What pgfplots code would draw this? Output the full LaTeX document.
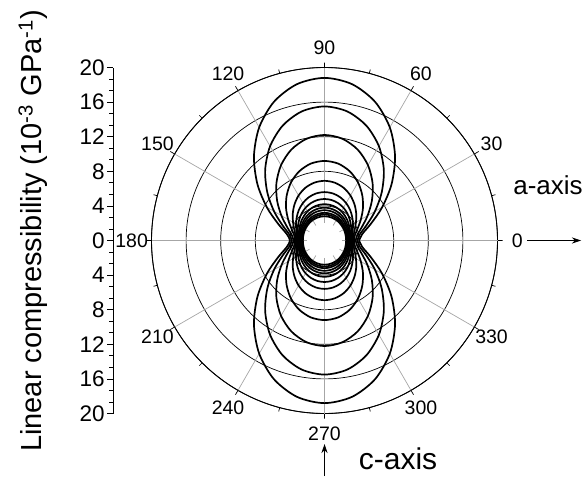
\documentclass[border=0pt]{standalone}
\usepackage{fontspec}
\setmainfont{Liberation Sans}
\usepackage{pgfplots}
\usepackage{pgfplotstable}
\pgfplotsset{compat=1.18}
\usepgfplotslibrary{polar}
\usetikzlibrary{arrows.meta}

% Linear compressibility (10^-3 GPa^-1) versus direction, one column per pressure
\pgfplotstableread{
t    c1    c2    c3    c4   c5   c6   c7   c8   c9   c10  c11  c12  c13
0    4.00  3.80  3.60  3.40 3.30 3.20 3.10 3.00 2.90 2.80 2.70 2.60 2.50
10   4.45  4.15  3.86  3.57 3.41 3.27 3.15 3.04 2.93 2.82 2.72 2.61 2.51
20   5.73  5.17  4.61  4.08 3.72 3.48 3.30 3.14 3.01 2.88 2.76 2.65 2.54
30   7.70  6.73  5.75  4.85 4.20 3.80 3.53 3.30 3.13 2.98 2.83 2.70 2.58
40   10.12 8.63  7.15  5.80 4.79 4.19 3.80 3.50 3.27 3.09 2.91 2.77 2.62
50   12.69 10.67 8.65  6.80 5.41 4.61 4.10 3.70 3.43 3.21 2.99 2.83 2.68
60   15.10 12.58 10.05 7.75 6.00 5.00 4.38 3.90 3.58 3.33 3.08 2.90 2.73
70   17.07 14.13 11.19 8.52 6.48 5.32 4.60 4.06 3.69 3.42 3.14 2.95 2.76
80   18.35 15.15 11.94 9.03 6.79 5.53 4.75 4.16 3.77 3.48 3.18 2.99 2.79
90   18.80 15.50 12.20 9.20 6.90 5.60 4.80 4.20 3.80 3.50 3.20 3.00 2.80
100  18.35 15.15 11.94 9.03 6.79 5.53 4.75 4.16 3.77 3.48 3.18 2.99 2.79
110  17.07 14.13 11.19 8.52 6.48 5.32 4.60 4.06 3.69 3.42 3.14 2.95 2.76
120  15.10 12.58 10.05 7.75 6.00 5.00 4.38 3.90 3.58 3.33 3.08 2.90 2.73
130  12.69 10.67 8.65  6.80 5.41 4.61 4.10 3.70 3.43 3.21 2.99 2.83 2.68
140  10.12 8.63  7.15  5.80 4.79 4.19 3.80 3.50 3.27 3.09 2.91 2.77 2.62
150  7.70  6.73  5.75  4.85 4.20 3.80 3.53 3.30 3.13 2.98 2.83 2.70 2.58
160  5.73  5.17  4.61  4.08 3.72 3.48 3.30 3.14 3.01 2.88 2.76 2.65 2.54
170  4.45  4.15  3.86  3.57 3.41 3.27 3.15 3.04 2.93 2.82 2.72 2.61 2.51
180  4.00  3.80  3.60  3.40 3.30 3.20 3.10 3.00 2.90 2.80 2.70 2.60 2.50
190  4.45  4.15  3.86  3.57 3.41 3.27 3.15 3.04 2.93 2.82 2.72 2.61 2.51
200  5.73  5.17  4.61  4.08 3.72 3.48 3.30 3.14 3.01 2.88 2.76 2.65 2.54
210  7.70  6.73  5.75  4.85 4.20 3.80 3.53 3.30 3.13 2.98 2.83 2.70 2.58
220  10.12 8.63  7.15  5.80 4.79 4.19 3.80 3.50 3.27 3.09 2.91 2.77 2.62
230  12.69 10.67 8.65  6.80 5.41 4.61 4.10 3.70 3.43 3.21 2.99 2.83 2.68
240  15.10 12.58 10.05 7.75 6.00 5.00 4.38 3.90 3.58 3.33 3.08 2.90 2.73
250  17.07 14.13 11.19 8.52 6.48 5.32 4.60 4.06 3.69 3.42 3.14 2.95 2.76
260  18.35 15.15 11.94 9.03 6.79 5.53 4.75 4.16 3.77 3.48 3.18 2.99 2.79
270  18.80 15.50 12.20 9.20 6.90 5.60 4.80 4.20 3.80 3.50 3.20 3.00 2.80
280  18.35 15.15 11.94 9.03 6.79 5.53 4.75 4.16 3.77 3.48 3.18 2.99 2.79
290  17.07 14.13 11.19 8.52 6.48 5.32 4.60 4.06 3.69 3.42 3.14 2.95 2.76
300  15.10 12.58 10.05 7.75 6.00 5.00 4.38 3.90 3.58 3.33 3.08 2.90 2.73
310  12.69 10.67 8.65  6.80 5.41 4.61 4.10 3.70 3.43 3.21 2.99 2.83 2.68
320  10.12 8.63  7.15  5.80 4.79 4.19 3.80 3.50 3.27 3.09 2.91 2.77 2.62
330  7.70  6.73  5.75  4.85 4.20 3.80 3.53 3.30 3.13 2.98 2.83 2.70 2.58
340  5.73  5.17  4.61  4.08 3.72 3.48 3.30 3.14 3.01 2.88 2.76 2.65 2.54
350  4.45  4.15  3.86  3.57 3.41 3.27 3.15 3.04 2.93 2.82 2.72 2.61 2.51
360  4.00  3.80  3.60  3.40 3.30 3.20 3.10 3.00 2.90 2.80 2.70 2.60 2.50
}\compress

\begin{document}
\begin{tikzpicture}
\path[use as bounding box] (0pt,0pt) rectangle (583pt,477pt);

% polar plot of the compressibility indicatrix
\begin{polaraxis}[
  at={(324.5pt,236.5pt)}, anchor=center,
  width=346pt, height=346pt, scale only axis,
  clip=false,
  ymin=0, ymax=20,
  xtick={0,30,...,330},
  minor xtick={15,45,...,345},
  xticklabels={},
  xticklabel style={opacity=0},
  ytick={4,8,12,16,20},
  yticklabels={{},{},{},{},{}},
  ytick style={draw=none},
  y axis line style={draw=none},
  ymajorgrids,
  y grid style={black, line width=0.7pt},
  xmajorgrids=false,
  axis line style={black, line width=0.9pt},
  x tick style={black, line width=0.7pt},
  tick align=inside,
  major tick length=5pt, minor tick length=4pt,
]
% spokes every 30 degrees
\pgfplotsinvokeforeach{0,30,...,330}{
  \draw[gray!70, line width=0.7pt] (axis cs:#1,2) -- (axis cs:#1,20);
}
% angle labels set just outside the rim
\pgfplotsinvokeforeach{0,30,...,330}{
  \node[font=\fontsize{19.5}{19.5}\selectfont, inner sep=0pt] at (axis cs:#1,22.3) {#1};
}
\pgfplotsinvokeforeach{1,...,13}{
  \addplot[black, line width=1.7pt, smooth, no markers] table[x=t, y=c#1] {\compress};
}
\end{polaraxis}

% radial scale on the left
\begin{axis}[
  at={(113.3pt,63.5pt)}, anchor=south west,
  width=10pt, height=346pt, scale only axis,
  xmin=0, xmax=1, ymin=-20, ymax=20,
  hide x axis,
  axis y line*=left,
  y axis line style={-, black, line width=0.8pt},
  ytick={-20,-16,...,20},
  minor y tick num=2,
  yticklabel={\pgfmathparse{abs(\tick)}\pgfmathprintnumber[int detect]{\pgfmathresult}},
  /pgf/number format/assume math mode=true,
  yticklabel style={font=\fontsize{22.5}{22.5}\selectfont, inner xsep=2.5pt},
  tick align=outside,
  y tick style={black, line width=0.7pt},
  major tick length=6pt, minor tick length=4pt,
]
\end{axis}

\node[rotate=90, font=\fontsize{29}{29}\selectfont] at (33pt,246pt)
  {Linear compressibility (10\textsuperscript{-3} GPa\textsuperscript{-1})};

\node[font=\fontsize{26}{26}\selectfont] at (548pt,292pt) {a-axis};
\draw[line width=0.9pt, -{Stealth[length=9pt,width=6pt]}] (527pt,236.5pt) -- (581pt,236.5pt);

\node[font=\fontsize{30}{30}\selectfont] at (398pt,18pt) {c-axis};
\draw[line width=0.9pt, -{Stealth[length=9pt,width=6pt]}] (324.5pt,1pt) -- (324.5pt,33pt);
\end{tikzpicture}
\end{document}
